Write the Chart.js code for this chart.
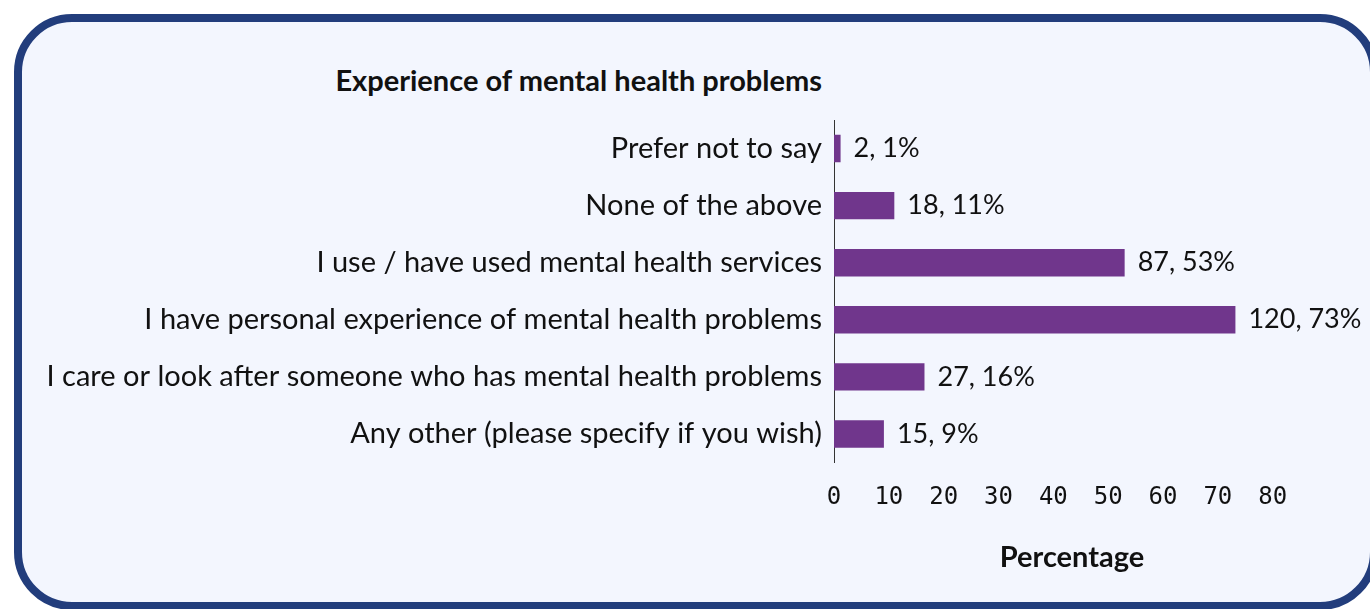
<!DOCTYPE html>
<html>
<head>
<meta charset="utf-8">
<script src="https://cdn.jsdelivr.net/npm/chart.js@4.4.1/dist/chart.umd.min.js"></script>
<style>
  html, body { margin: 0; padding: 0; background: #ffffff; }
  body { width: 1370px; height: 609px; position: relative; overflow: hidden; font-family: Lato, sans-serif; }
  .frame {
    position: absolute; left: 14px; top: 14px; width: 1364px; height: 596px;
    box-sizing: border-box; border: 8px solid #223d7c; border-radius: 58px;
    background: #f3f6fe;
  }
  .title {
    position: absolute; right: 548px; top: 62px;
    font-size: 29px; font-weight: bold; color: #111;
  }
  #chart { position: absolute; left: 0; top: 0; }
</style>
</head>
<body>
<div class="frame"></div>
<div class="title">Experience of mental health problems</div>
<canvas id="chart" width="1370" height="609"></canvas>
<script>
// dados
const categories = [
    'Prefer not to say',
    'None of the above',
    'I use / have used mental health services',
    'I have personal experience of mental health problems',
    'I care or look after someone who has mental health problems',
    'Any other (please specify if you wish)'
];
const counts = [2, 18, 87, 120, 27, 15];
const percents = [1.2, 11, 53, 73.2, 16.5, 9.1];
const percentText = ['1%', '11%', '53%', '73%', '16%', '9%'];
const xTicks = [0, 10, 20, 30, 40, 50, 60, 70, 80];

// rótulos ao lado das barras
const barLabels = {
    id: 'barLabels',
    afterDatasetsDraw(chart) {
        const c = chart.ctx;
        const meta = chart.getDatasetMeta(0);
        c.save();
        c.font = '27px Lato';
        c.fillStyle = '#111';
        c.textBaseline = 'middle';
        c.textAlign = 'left';
        meta.data.forEach((bar, i) => {
            c.fillText(counts[i] + ', ' + percentText[i], bar.x + 13, bar.y);
        });
        c.restore();
    }
};

const ctx = document.getElementById('chart').getContext('2d');
new Chart(ctx, {
    type: 'bar',
    data: {
        labels: categories,
        datasets: [{
            data: percents,
            backgroundColor: '#70368c',
            barPercentage: 0.48,
            categoryPercentage: 1
        }]
    },
    options: {
        indexAxis: 'y',
        responsive: false,
        animation: false,
        layout: { padding: { top: 120, right: 60, bottom: 0, left: 0 } },
        plugins: { legend: { display: false }, tooltip: { enabled: false } },
        scales: {
            y: {
                grid: { display: false, drawTicks: false },
                border: { display: true, color: '#333', width: 1 },
                ticks: { color: '#111', font: { family: 'Lato', size: 29 }, padding: 12 },
                afterFit: (s) => { s.width = 834; }
            },
            x: {
                min: 0,
                max: 86.8,
                grid: { display: false, drawTicks: false },
                border: { display: false },
                afterBuildTicks: (s) => { s.ticks = xTicks.map(v => ({ value: v })); },
                ticks: { color: '#111', font: { family: 'DejaVu Sans Mono', size: 24 }, padding: 21, maxRotation: 0 },
                title: {
                    display: true,
                    text: 'Percentage',
                    color: '#111',
                    font: { family: 'Lato', size: 29, weight: 'bold' },
                    padding: { top: 0, bottom: 34 }
                },
                afterFit: (s) => { s.height = 146.5; }
            }
        }
    },
    plugins: [barLabels]
});
</script>
</body>
</html>
